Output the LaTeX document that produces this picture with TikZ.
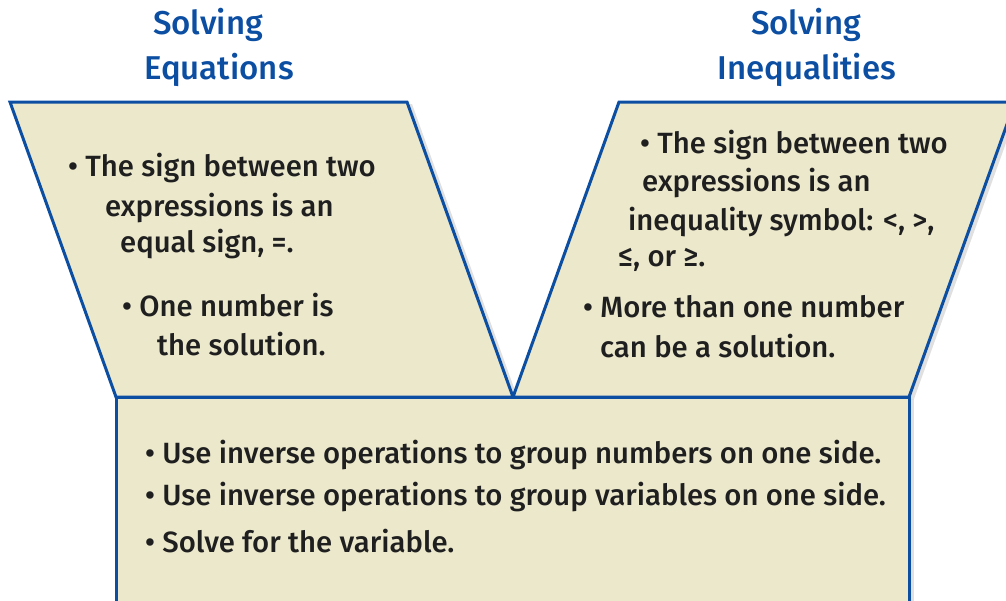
\documentclass[tikz,border=0pt]{standalone}
\usepackage{fontspec}
\setmainfont{Fira Sans}[UprightFont=* Medium]
\usetikzlibrary{shadows}
\definecolor{vblue}{RGB}{12,78,162}
\definecolor{vtan}{RGB}{236,232,204}
\tikzset{
  panel/.style={draw=vblue, line width=3pt, line join=miter, fill=vtan,
    drop shadow={shadow xshift=5pt, shadow yshift=-2pt, opacity=0.12, fill=black}},
  heading/.style={text=vblue, inner sep=0pt, font=\fontsize{33}{36}\selectfont},
  textline/.style={anchor=west, inner sep=0pt, text=black!88, font=\fontsize{29.3}{32}\selectfont}
}

\begin{document}
\begin{tikzpicture}[x=1pt,y=-1pt]
  \useasboundingbox (0,0) rectangle (1006,600);
  \clip (0,0) rectangle (1006,600);

  % the two top panels and the shared box
  \draw[panel] (10,102) -- (407,102) -- (513,397) -- (116,397) -- cycle;
  \draw[panel] (619,102) -- (1015,102) -- (909,397) -- (513,397) -- cycle;
  \draw[panel] (116,397) rectangle (909,640);

  % headings
  \node[heading] (eqa) at (208,25) {Solving};
  \node[heading] (eqb) at (219,70) {Equations};
  \node[heading] (ina) at (806,25) {Solving};
  \node[heading] (inb) at (807,70) {Inequalities};

  % equations
  \foreach \px/\py/\txt [count=\i] in {
      68/168/{• The sign between two},
      105/208/{expressions is an},
      120/244/{equal sign, =.},
      122/305/{• One number is},
      157/344/{the solution.}}
    \node[textline] (eq\i) at (\px,\py) {\txt};

  % inequalities
  \foreach \px/\py/\txt [count=\i] in {
      640/145/{• The sign between two},
      642/183/{expressions is an},
      628/222/{inequality symbol: <, >,},
      618/260/{≤, or ≥.},
      583/307/{• More than one number},
      600/346/{can be a solution.}}
    \node[textline] (in\i) at (\px,\py) {\txt};

  % both
  \foreach \px/\py/\txt [count=\i] in {
      145/455/{• Use inverse operations to group numbers on one side.},
      145/497/{• Use inverse operations to group variables on one side.},
      145/541/{• Solve for the variable.}}
    \node[textline] (bo\i) at (\px,\py) {\txt};

\end{tikzpicture}
\end{document}
